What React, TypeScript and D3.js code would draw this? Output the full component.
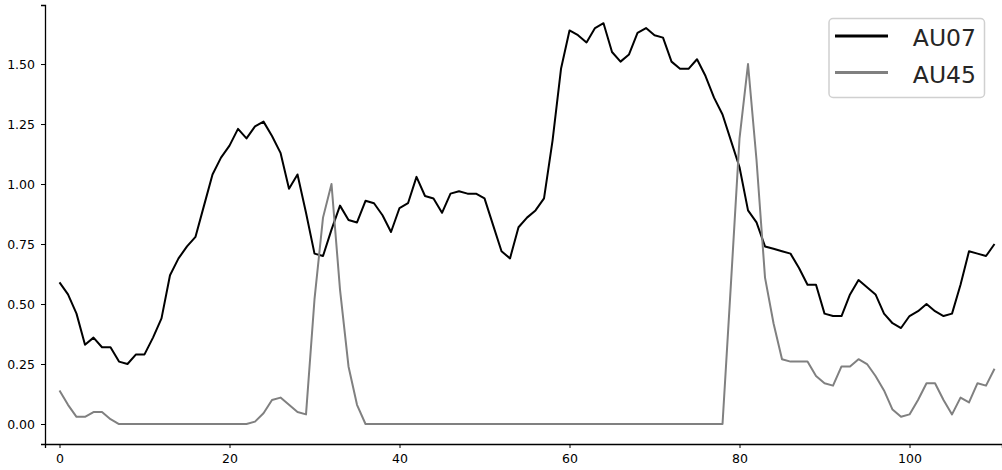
import * as d3 from "d3";
import { useRef, useEffect } from "react";

// per-frame intensities, frames 0..110
const au07 = [
  0.59, 0.54, 0.46, 0.33, 0.36, 0.32, 0.32, 0.26, 0.25, 0.29, 0.29,
  0.36, 0.44, 0.62, 0.69, 0.74, 0.78, 0.91, 1.04, 1.11, 1.16,
  1.23, 1.19, 1.24, 1.26, 1.2, 1.13, 0.98, 1.04, 0.88, 0.71,
  0.7, 0.81, 0.91, 0.85, 0.84, 0.93, 0.92, 0.87, 0.8, 0.9,
  0.92, 1.03, 0.95, 0.94, 0.88, 0.96, 0.97, 0.96, 0.96, 0.94,
  0.83, 0.72, 0.69, 0.82, 0.86, 0.89, 0.94, 1.18, 1.48, 1.64,
  1.62, 1.59, 1.65, 1.67, 1.55, 1.51, 1.54, 1.63, 1.65, 1.62,
  1.61, 1.51, 1.48, 1.48, 1.52, 1.45, 1.36, 1.29, 1.18, 1.07,
  0.89, 0.84, 0.74, 0.73, 0.72, 0.71, 0.65, 0.58, 0.58, 0.46,
  0.45, 0.45, 0.54, 0.6, 0.57, 0.54, 0.46, 0.42, 0.4, 0.45,
  0.47, 0.5, 0.47, 0.45, 0.46, 0.58, 0.72, 0.71, 0.7, 0.75,
];

const au45 = [
  0.14, 0.08, 0.03, 0.03, 0.05, 0.05, 0.02, 0, 0, 0, 0,
  0, 0, 0, 0, 0, 0, 0, 0, 0, 0,
  0, 0, 0.01, 0.045, 0.1, 0.11, 0.08, 0.05, 0.04, 0.52,
  0.86, 1.0, 0.56, 0.24, 0.08, 0, 0, 0, 0, 0,
  0, 0, 0, 0, 0, 0, 0, 0, 0, 0,
  0, 0, 0, 0, 0, 0, 0, 0, 0, 0,
  0, 0, 0, 0, 0, 0, 0, 0, 0, 0,
  0, 0, 0, 0, 0, 0, 0, 0, 0.59, 1.19,
  1.5, 1.1, 0.61, 0.42, 0.27, 0.26, 0.26, 0.26, 0.2, 0.17,
  0.16, 0.24, 0.24, 0.27, 0.25, 0.2, 0.14, 0.06, 0.03, 0.04,
  0.1, 0.17, 0.17, 0.1, 0.04, 0.11, 0.09, 0.17, 0.16, 0.23,
];

const xTicks = [0, 20, 40, 60, 80, 100];
const yTicks = [0, 0.25, 0.5, 0.75, 1.0, 1.25, 1.5];

const series = [
  { name: "AU07", values: au07, color: "#000000" },
  { name: "AU45", values: au45, color: "#808080" },
];

const width = 1002;
const height = 470;

const App = () => {
  const axRef = useRef<SVGGElement>(null);

  const x = d3.scaleLinear().domain([-1.706, 110.88]).range([45, 1002]);
  const y = d3.scaleLinear().domain([-0.0833, 1.746]).range([444, 5]);

  useEffect(() => {
    const g = d3.select(axRef.current);
    g.selectAll("*").remove();

    const font = "'DejaVu Sans', sans-serif";

    const xAxis = g.append("g")
      .attr("transform", `translate(0, 444)`)
      .call(d3.axisBottom(x).tickValues(xTicks).tickSizeOuter(0).tickSize(4).tickPadding(6).tickFormat(d3.format("d")));
    xAxis.select(".domain").attr("stroke", "#000").attr("stroke-width", 1.3);
    xAxis.selectAll(".tick line").attr("stroke", "#000").attr("stroke-width", 1);
    xAxis.selectAll("text").attr("font-family", font).attr("font-size", 12.5).attr("fill", "#000");

    const yAxis = g.append("g")
      .attr("transform", `translate(45, 0)`)
      .call(d3.axisLeft(y).tickValues(yTicks).tickSizeOuter(0).tickSize(4).tickPadding(6).tickFormat(d3.format(".2f")));
    yAxis.select(".domain").attr("stroke", "#000").attr("stroke-width", 1.3);
    yAxis.selectAll(".tick line").attr("stroke", "#000").attr("stroke-width", 1);
    yAxis.selectAll("text").attr("font-family", font).attr("font-size", 12.5).attr("fill", "#000");
  }, []);

  const line = d3.line<number>()
    .x((_, i) => x(i))
    .y(d => y(d));

  return (
    <svg width={width} height={height} style={{ position: "absolute", left: 0, top: 0, background: "#fff" }}>
      <g ref={axRef}></g>
      {series.map(s => (
        <path key={s.name} d={line(s.values) || ""} fill="none" stroke={s.color}
          strokeWidth={2} strokeLinejoin="round" />
      ))}
      <g>
        <rect x={829} y={18.5} width={155.5} height={79} rx={4} fill="#fff" fillOpacity={0.8}
          stroke="#d0d0d0" strokeWidth={1.5} />
        {series.map((s, i) => (
          <g key={s.name} transform={`translate(0, ${36 + i * 36.5})`}>
            <line x1={835} x2={888} y1={0} y2={0} stroke={s.color} strokeWidth={3} />
            <text x={976} y={10} textAnchor="end" fontFamily="'DejaVu Sans', sans-serif"
              fontSize={23.5} fill="#262626">{s.name}</text>
          </g>
        ))}
      </g>
    </svg>
  );
};

export default App;
